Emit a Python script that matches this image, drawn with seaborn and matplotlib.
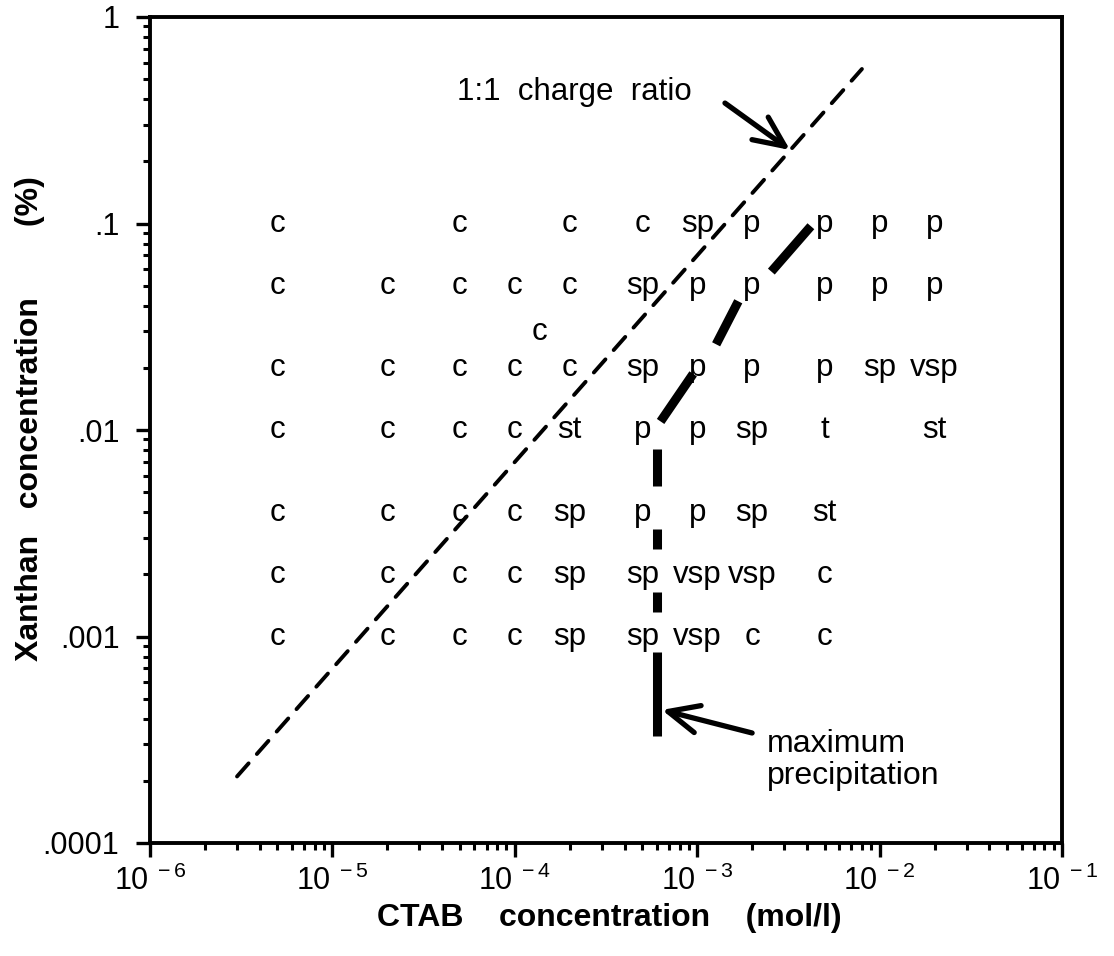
import numpy as np
import pandas as pd
import matplotlib
matplotlib.use("Agg")
import matplotlib.pyplot as plt
import seaborn as sns
from matplotlib.ticker import FixedLocator, FixedFormatter, LogLocator, NullFormatter

# ---------------- data ----------------
ctab_cols = [5e-6, 2e-5, 5e-5, 1e-4, 2e-4, 5e-4, 1e-3, 2e-3, 5e-3, 1e-2, 2e-2]
xanthan_rows = [0.1, 0.05, 0.02, 0.01, 0.004, 0.002, 0.001]
phase_rows = [
    ["c", "",  "c", "",  "c",  "c",  "sp",  "p",   "p",  "p",  "p"],
    ["c", "c", "c", "c", "c",  "sp", "p",   "p",   "p",  "p",  "p"],
    ["c", "c", "c", "c", "c",  "sp", "p",   "p",   "p",  "sp", "vsp"],
    ["c", "c", "c", "c", "st", "p",  "p",   "sp",  "t",  "",   "st"],
    ["c", "c", "c", "c", "sp", "p",  "p",   "sp",  "st", "",   ""],
    ["c", "c", "c", "c", "sp", "sp", "vsp", "vsp", "c",  "",   ""],
    ["c", "c", "c", "c", "sp", "sp", "vsp", "c",   "c",  "",   ""],
]
extra_x = [1.36e-4]
extra_y = [0.03]
extra_phase = ["c"]

# 1:1 charge ratio line
ratio_x = [3e-6, 8e-3]
ratio_y = [2.1e-4, 0.56]

# maximum precipitation boundary (broken segments)
maxp_seg = [0, 0, 1, 1, 2, 2, 3, 3, 4, 4, 5, 5, 6, 6]
maxp_x = [6.0e-4, 6.0e-4, 6.0e-4, 6.0e-4, 6.0e-4, 6.0e-4, 6.0e-4, 6.0e-4,
          6.3e-4, 9.5e-4, 1.27e-3, 1.68e-3, 2.55e-3, 4.2e-3]
maxp_y = [3.3e-4, 8.4e-4, 1.32e-3, 1.65e-3, 2.64e-3, 3.3e-3, 5.35e-3, 8.1e-3,
          0.011, 0.0187, 0.026, 0.042, 0.0585, 0.097]

x_ticks = [1e-6, 1e-5, 1e-4, 1e-3, 1e-2, 1e-1]
x_ticklabels = [r"$\mathrm{10^{\ -6}}$", r"$\mathrm{10^{\ -5}}$", r"$\mathrm{10^{\ -4}}$",
                r"$\mathrm{10^{\ -3}}$", r"$\mathrm{10^{\ -2}}$", r"$\mathrm{10^{\ -1}}$"]
y_ticks = [1e-4, 1e-3, 1e-2, 1e-1, 1]
y_ticklabels = [".0001", ".001", ".01", ".1", "1"]

ratio_label = "1:1  charge  ratio"
ratio_text_pos = (4.8e-5, 0.433)
ratio_arrow_tail = (1.42e-3, 0.383)
ratio_arrow_tip = (3.23e-3, 0.227)

maxp_label = "maximum\nprecipitation"
maxp_text_pos = (2.42e-3, 2.52e-4)
maxp_arrow_tail = (2.0e-3, 3.41e-4)
maxp_arrow_tip = (6.4e-4, 4.41e-4)

# ---------------- style ----------------
sns.set_theme(style="ticks")
plt.rcParams["font.family"] = ["Liberation Sans", "DejaVu Sans"]
plt.rcParams["mathtext.fontset"] = "custom"
plt.rcParams["mathtext.rm"] = "Liberation Sans"
plt.rcParams["mathtext.it"] = "Liberation Sans:italic"
plt.rcParams["mathtext.bf"] = "Liberation Sans:bold"
plt.rcParams["text.color"] = "black"
plt.rcParams["axes.labelcolor"] = "black"
plt.rcParams["xtick.color"] = "black"
plt.rcParams["ytick.color"] = "black"
plt.rcParams["xtick.labelcolor"] = "black"
plt.rcParams["ytick.labelcolor"] = "black"

fig = plt.figure(figsize=(11.14, 9.56), dpi=100)
fig.patch.set_facecolor("white")
ax = fig.add_axes([150 / 1114, 1 - 843 / 956, 912 / 1114, 826 / 956])
ax.set_facecolor("white")

ratio_df = pd.DataFrame({"x": ratio_x, "y": ratio_y})
sns.lineplot(data=ratio_df, x="x", y="y", ax=ax, color="black", lw=2.8,
             sort=False, estimator=None)
ax.lines[-1].set_dashes([4.5, 3.2])
ax.lines[-1].set_dash_capstyle("round")

maxp_df = pd.DataFrame({"x": maxp_x, "y": maxp_y, "seg": maxp_seg})
sns.lineplot(data=maxp_df, x="x", y="y", units="seg", estimator=None, sort=False,
             ax=ax, color="black", lw=6.5, legend=False)
for ln in ax.lines[1:]:
    ln.set_solid_capstyle("butt")

ax.set_xscale("log")
ax.set_yscale("log")
ax.set_xlim(1e-6, 1e-1)
ax.set_ylim(1e-4, 1)

txt_size = 22.5
for yv, row in zip(xanthan_rows, phase_rows):
    for xv, lab in zip(ctab_cols, row):
        if lab:
            ax.annotate(lab, (xv, yv), xytext=(0, -6), textcoords="offset points",
                        ha="center", va="baseline", fontsize=txt_size, color="black")
for xv, yv, lab in zip(extra_x, extra_y, extra_phase):
    ax.annotate(lab, (xv, yv), xytext=(0, -6), textcoords="offset points",
                ha="center", va="baseline", fontsize=txt_size, color="black")

# annotations
ax.text(*ratio_text_pos, ratio_label, fontsize=22.5, ha="left", va="center",
        color="black")
ax.annotate("", xy=ratio_arrow_tip, xytext=ratio_arrow_tail,
            arrowprops=dict(arrowstyle="->,head_length=1.1,head_width=0.5",
                            mutation_scale=20, lw=3.8, color="black",
                            shrinkA=0, shrinkB=0))
ax.text(*maxp_text_pos, maxp_label, fontsize=23, ha="left", va="center",
        linespacing=1.1, color="black")
ax.annotate("", xy=maxp_arrow_tip, xytext=maxp_arrow_tail,
            arrowprops=dict(arrowstyle="->,head_length=1.1,head_width=0.5",
                            mutation_scale=20, lw=3.8, color="black",
                            shrinkA=0, shrinkB=0))

# axes styling
for side in ["left", "bottom", "top", "right"]:
    ax.spines[side].set_visible(True)
    ax.spines[side].set_linewidth(2.8)
    ax.spines[side].set_color("black")

ax.xaxis.set_major_locator(FixedLocator(x_ticks))
ax.xaxis.set_major_formatter(FixedFormatter(x_ticklabels))
ax.xaxis.set_minor_locator(LogLocator(base=10, subs=np.arange(2, 10), numticks=20))
ax.xaxis.set_minor_formatter(NullFormatter())
ax.yaxis.set_major_locator(FixedLocator(y_ticks))
ax.yaxis.set_major_formatter(FixedFormatter(y_ticklabels))
ax.yaxis.set_minor_locator(LogLocator(base=10, subs=np.arange(2, 10), numticks=20))
ax.yaxis.set_minor_formatter(NullFormatter())

ax.tick_params(which="major", direction="out", length=10, width=2.4, colors="black",
               labelcolor="black", labelsize=22, top=False, right=False)
ax.tick_params(which="minor", direction="out", length=5, width=2.2, colors="black",
               top=False, right=False)
ax.tick_params(axis="y", which="major", pad=12)
ax.tick_params(axis="x", which="major", pad=6)

ax.set_xlabel("CTAB    concentration    (mol/l)", fontsize=23, fontweight="bold",
              ha="center", va="center", color="black")
ax.set_ylabel("Xanthan   concentration        (%)", fontsize=23, fontweight="bold",
              ha="center", va="center", color="black")
ax.xaxis.set_label_coords((609 - 150) / 912, (843 - 918) / 826)
ax.yaxis.set_label_coords((30 - 150) / 912, (843 - 419) / 826)

fig.savefig("out.png", dpi=100, facecolor="white")
